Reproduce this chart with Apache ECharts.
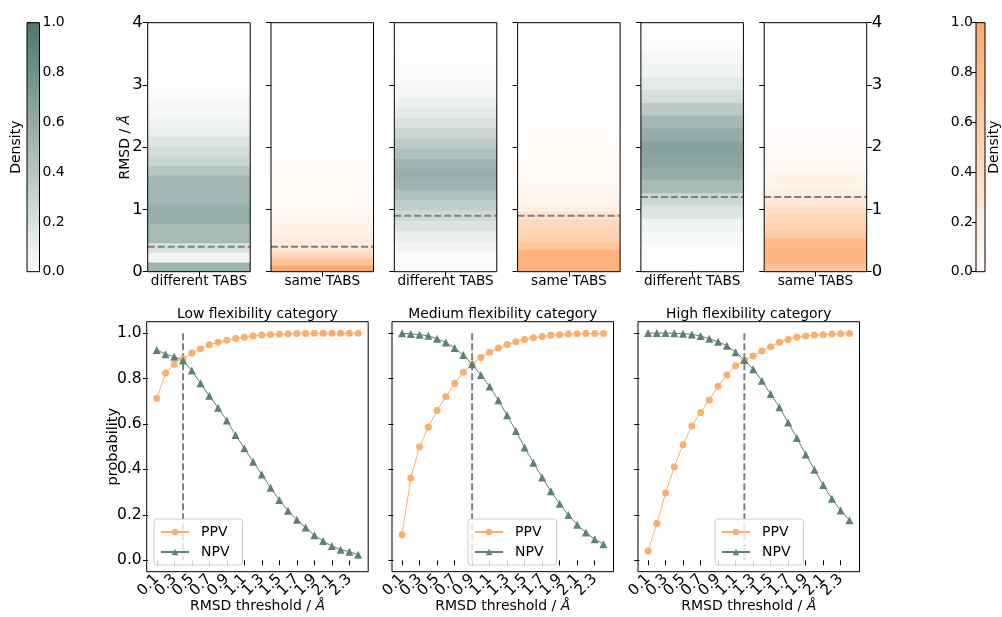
<!DOCTYPE html>
<html><head><meta charset="utf-8">
<script src="https://cdn.jsdelivr.net/npm/echarts@6/dist/echarts.min.js"></script>
<style>html,body{margin:0;padding:0;background:#fff}#c{width:1002px;height:617px}</style>
</head><body><div id="c"></div>
<script>
// ---------------- data ----------------
const thresholds = [0.1,0.2,0.3,0.4,0.5,0.6,0.7,0.8,0.9,1.0,1.1,1.2,1.3,1.4,1.5,1.6,1.7,1.8,1.9,2.0,2.1,2.2,2.3,2.4];
const xTickValues = [0.1,0.3,0.5,0.7,0.9,1.1,1.3,1.5,1.7,1.9,2.1,2.3];
const yTickValues = [0,0.2,0.4,0.6,0.8,1.0];
const rmsdTicks = [0,1,2,3,4];
const colorbarTicks = [0,0.2,0.4,0.6,0.8,1.0];
const categories = ['Low flexibility category','Medium flexibility category','High flexibility category'];
const cutoffs = [0.4, 0.9, 1.2];
const topLabels = ['different TABS','same TABS','different TABS','same TABS','different TABS','same TABS'];

const ppvLow  = [0.713,0.824,0.863,0.887,0.912,0.931,0.949,0.960,0.968,0.976,0.982,0.987,0.991,0.994,0.995,0.997,0.998,0.998,0.999,0.999,0.999,0.999,0.999,0.999];
const npvLow  = [0.926,0.907,0.896,0.879,0.835,0.779,0.724,0.671,0.615,0.551,0.493,0.434,0.378,0.319,0.265,0.218,0.179,0.144,0.110,0.085,0.063,0.047,0.038,0.025];
const ppvMed  = [0.113,0.362,0.500,0.587,0.659,0.721,0.778,0.828,0.863,0.893,0.916,0.934,0.950,0.962,0.972,0.979,0.985,0.990,0.993,0.996,0.997,0.998,0.998,0.998];
const npvMed  = [0.999,0.996,0.993,0.988,0.975,0.959,0.934,0.904,0.863,0.816,0.765,0.704,0.638,0.569,0.497,0.429,0.365,0.304,0.249,0.199,0.157,0.122,0.093,0.071];
const ppvHigh = [0.041,0.162,0.296,0.412,0.509,0.591,0.651,0.706,0.766,0.816,0.856,0.882,0.899,0.921,0.940,0.960,0.972,0.982,0.987,0.991,0.993,0.996,0.997,0.998];
const npvHigh = [1.000,1.000,1.000,0.999,0.997,0.994,0.987,0.975,0.962,0.944,0.916,0.882,0.841,0.790,0.732,0.674,0.607,0.538,0.466,0.399,0.331,0.271,0.219,0.176];

// density histograms (bin start, bin width, densities from bottom to top)
const diffLowStart = 0, diffLowWidth = 0.155;
const diffLowDensity = [0.55,0.07,0.22,0.5,0.5,0.58,0.58,0.53,0.53,0.53,0.4,0.3,0.25,0.18,0.12,0.09,0.06,0.05,0.035,0.025,0.02,0.015,0.01,0.008,0.005,0.003];
const sameLowStart = 0, sameLowWidth = 0.11;
const sameLowDensity = [1.0,0.7,0.45,0.3,0.22,0.17,0.14,0.12,0.1,0.085,0.07,0.06,0.055,0.05,0.04,0.035,0.03,0.025,0.02,0.016,0.013,0.01,0.008,0.006,0.005,0.004];
const diffMedStart = 0, diffMedWidth = 0.165;
const diffMedDensity = [0.02,0.03,0.08,0.13,0.2,0.28,0.36,0.45,0.55,0.58,0.55,0.46,0.38,0.3,0.22,0.15,0.1,0.06,0.04,0.03,0.02,0.015,0.01,0.008,0.005];
const sameMedStart = 0, sameMedWidth = 0.12;
const sameMedDensity = [0.9,0.9,0.9,0.65,0.55,0.5,0.45,0.35,0.2,0.14,0.11,0.09,0.07,0.065,0.055,0.045,0.04,0.032,0.026,0.02,0.016,0.013,0.01,0.008,0.005];
const diffHighStart = 0.03, diffHighWidth = 0.207;
const diffHighDensity = [0.005,0.02,0.04,0.09,0.2,0.3,0.5,0.6,0.66,0.68,0.6,0.52,0.38,0.24,0.15,0.09,0.05,0.03,0.015,0.01];
const sameHighStart = 0, sameHighWidth = 0.134;
const sameHighDensity = [0.7,0.85,0.85,0.82,0.62,0.52,0.46,0.37,0.27,0.18,0.14,0.12,0.08,0.06,0.048,0.038,0.03,0.024,0.019,0.014,0.011,0.008,0.006,0.005,0.004];

// ---------------- styling ----------------
const FONT = 'DejaVu Sans';
const GREEN = '#4e766f', ORANGE = '#fdaa6c';
const PPV_COLOR = '#fdae6b', NPV_COLOR = '#5a8279';
const DASH = '#808080';

function mix(hex, t) {
  t = Math.max(0, Math.min(1, t));
  const r = parseInt(hex.slice(1,3),16), g = parseInt(hex.slice(3,5),16), b = parseInt(hex.slice(5,7),16);
  const f = c => Math.round(255 + (c - 255) * t);
  return 'rgb(' + f(r) + ',' + f(g) + ',' + f(b) + ')';
}
function bins(start, width, dens) {
  return dens.map((d, k) => [0.5, start + k * width, start + (k + 1) * width, d]);
}

const topPanels = [
  {data: bins(diffLowStart, diffLowWidth, diffLowDensity), color: GREEN, cut: cutoffs[0]},
  {data: bins(sameLowStart, sameLowWidth, sameLowDensity), color: ORANGE, cut: cutoffs[0]},
  {data: bins(diffMedStart, diffMedWidth, diffMedDensity), color: GREEN, cut: cutoffs[1]},
  {data: bins(sameMedStart, sameMedWidth, sameMedDensity), color: ORANGE, cut: cutoffs[1]},
  {data: bins(diffHighStart, diffHighWidth, diffHighDensity), color: GREEN, cut: cutoffs[2]},
  {data: bins(sameHighStart, sameHighWidth, sameHighDensity), color: ORANGE, cut: cutoffs[2]}
];
const bottomPanels = [
  {ppv: ppvLow, npv: npvLow, cut: cutoffs[0], title: categories[0]},
  {ppv: ppvMed, npv: npvMed, cut: cutoffs[1], title: categories[1]},
  {ppv: ppvHigh, npv: npvHigh, cut: cutoffs[2], title: categories[2]}
];

const grid = [], xAxis = [], yAxis = [], series = [], legend = [], graphic = [];
const border = {show: true, borderColor: '#000', borderWidth: 1, z: 10, backgroundColor: 'transparent'};
const hiddenX = {type: 'value', min: 0, max: 1, show: false};

function heatRender(color) {
  return function (params, api) {
    const a = api.coord([0, api.value(1)]);
    const b = api.coord([1, api.value(2)]);
    const cs = params.coordSys;
    const shape = echarts.graphic.clipRectByRect(
      {x: a[0], y: b[1] - 0.4, width: b[0] - a[0], height: a[1] - b[1] + 0.8},
      {x: cs.x, y: cs.y, width: cs.width, height: cs.height});
    if (!shape) return;
    return {type: 'rect', shape: shape, style: {fill: mix(color, api.value(3))}};
  };
}
function barRender(color) {
  return function (params, api) {
    const a = api.coord([0, 0]), b = api.coord([1, 1]);
    return {type: 'rect', shape: {x: a[0], y: b[1], width: b[0] - a[0], height: a[1] - b[1]},
      style: {fill: new echarts.graphic.LinearGradient(0, 0, 0, 1, [{offset: 0, color: color}, {offset: 1, color: mix(color, 0.02)}])}};
  };
}

// ---- colorbars ----
const cbDefs = [
  {left: 27, color: GREEN, labelSide: 'right', nameSide: 'left', nameGap: 4},
  {left: 976, color: ORANGE, labelSide: 'left', nameSide: 'right', nameGap: 2}
];
cbDefs.forEach(cb => {
  const gi = grid.length;
  grid.push(Object.assign({left: cb.left, top: 22.7, width: 12.5, height: 249}, border));
  xAxis.push(Object.assign({gridIndex: gi}, hiddenX));
  const yi = yAxis.length;
  yAxis.push({gridIndex: gi, type: 'value', min: 0, max: 1, position: cb.labelSide,
    axisLine: {show: false}, splitLine: {show: false},
    axisTick: {show: true, length: 4, lineStyle: {color: '#000'}, customValues: colorbarTicks},
    axisLabel: {customValues: colorbarTicks, showMinLabel: true, showMaxLabel: true, formatter: v => v.toFixed(1), fontFamily: FONT, fontSize: 14, color: '#000', margin: 3}});
  yAxis.push({gridIndex: gi, type: 'value', min: 0, max: 1, position: cb.nameSide,
    axisLine: {show: false}, axisTick: {show: false}, axisLabel: {show: false}, splitLine: {show: false},
    name: 'Density', nameLocation: 'middle', nameGap: cb.nameGap, nameRotate: 90, nameMoveOverlap: false,
    nameTextStyle: {fontFamily: FONT, fontSize: 14, color: '#000', verticalAlign: cb.nameSide === 'left' ? 'bottom' : 'top'}});
  series.push({type: 'custom', xAxisIndex: gi, yAxisIndex: yi, data: [[0, 0, 1]], renderItem: barRender(cb.color), silent: true});
});

// ---- top panels ----
const topLefts = [147.7, 271, 394.3, 517.6, 640.9, 764.2];
topPanels.forEach((p, i) => {
  const gi = grid.length;
  grid.push(Object.assign({left: topLefts[i], top: 22.7, width: 102.5, height: 249}, border));
  xAxis.push({gridIndex: gi, type: 'value', min: 0, max: 1,
    axisLine: {show: false}, splitLine: {show: false},
    axisTick: {show: true, length: 5, lineStyle: {color: '#000'}, customValues: [0.5]},
    axisLabel: {customValues: [0.5], formatter: () => topLabels[i], fontFamily: FONT, fontSize: 13.6, color: '#000', margin: 3}});
  const yi = yAxis.length;
  yAxis.push({gridIndex: gi, type: 'value', min: 0, max: 4, interval: 1,
    axisLine: {show: false}, splitLine: {show: false},
    axisTick: {show: true, length: 5, lineStyle: {color: '#000'}},
    axisLabel: {show: i === 0, showMinLabel: true, showMaxLabel: true, fontFamily: FONT, fontSize: 16.5, color: '#000', margin: 5},
    name: i === 0 ? 'RMSD / {it|Å}' : '', nameLocation: 'middle', nameGap: 22.7, nameRotate: 90, nameMoveOverlap: false,
    nameTextStyle: {fontFamily: FONT, fontSize: 14, color: '#000', verticalAlign: 'middle',
      rich: {it: {fontFamily: FONT, fontSize: 14, fontStyle: 'italic', color: '#000'}}}});
  if (i === 5) {
    yAxis.push({gridIndex: gi, type: 'value', min: 0, max: 4, interval: 1, position: 'right',
      axisLine: {show: false}, splitLine: {show: false},
      axisTick: {show: true, length: 5, lineStyle: {color: '#000'}},
      axisLabel: {showMinLabel: true, showMaxLabel: true, fontFamily: FONT, fontSize: 16.5, color: '#000', margin: 5}});
  }
  series.push({type: 'custom', xAxisIndex: gi, yAxisIndex: yi, data: p.data,
    encode: {x: 0, y: [1, 2]}, renderItem: heatRender(p.color), silent: true, z: 2});
  series.push({type: 'line', xAxisIndex: gi, yAxisIndex: yi, data: [[0, p.cut], [1, p.cut]],
    symbol: 'none', silent: true, z: 5, lineStyle: {color: DASH, width: 2, type: [7, 3]}});
});

// ---- bottom panels ----
const botLefts = [146.7, 392, 638];
const legendLefts = [154, 468, 715];
const X_MIN = -0.015, X_MAX = 2.515;
// dummy end entries (hidden) so that all real tick labels stay visible
const xLabelValues = [X_MIN].concat(xTickValues, [X_MAX]);
bottomPanels.forEach((p, i) => {
  const gi = grid.length;
  grid.push(Object.assign({left: botLefts[i], top: 321.7, width: 221.5, height: 250}, border));
  xAxis.push({gridIndex: gi, type: 'value', min: X_MIN, max: X_MAX,
    axisLine: {show: false}, splitLine: {show: false},
    axisTick: {show: true, length: 5, lineStyle: {color: '#000'}, customValues: xLabelValues},
    axisLabel: {customValues: xLabelValues, showMinLabel: false, showMaxLabel: false, hideOverlap: false, rotate: 45,
      formatter: v => (v === X_MIN || v === X_MAX) ? '' : v.toFixed(1), fontFamily: FONT, fontSize: 15, color: '#000', margin: 5},
    name: 'RMSD threshold / {it|Å}', nameLocation: 'middle', nameGap: 28, nameMoveOverlap: false,
    nameTextStyle: {fontFamily: FONT, fontSize: 14, color: '#000', verticalAlign: 'top',
      rich: {it: {fontFamily: FONT, fontSize: 14, fontStyle: 'italic', color: '#000'}}}});
  const yi = yAxis.length;
  yAxis.push({gridIndex: gi, type: 'value', min: -0.05, max: 1.05,
    axisLine: {show: false}, splitLine: {show: false},
    axisTick: {show: true, length: 5, lineStyle: {color: '#000'}, customValues: yTickValues},
    axisLabel: {show: i === 0, customValues: yTickValues, showMinLabel: true, showMaxLabel: true,
      formatter: v => v.toFixed(1), fontFamily: FONT, fontSize: 15.5, color: '#000', margin: 5},
    name: i === 0 ? 'probability' : '', nameLocation: 'middle', nameGap: 33.7, nameRotate: 90, nameMoveOverlap: false,
    nameTextStyle: {fontFamily: FONT, fontSize: 14.5, color: '#000', verticalAlign: 'middle'}});
  series.push({type: 'line', name: 'cut', xAxisIndex: gi, yAxisIndex: yi, data: [[p.cut, 0], [p.cut, 1]],
    symbol: 'none', silent: true, z: 1, lineStyle: {color: DASH, width: 2, type: [7, 3]}});
  series.push({type: 'line', name: 'PPV', xAxisIndex: gi, yAxisIndex: yi,
    data: thresholds.map((t, k) => [t, p.ppv[k]]), symbol: 'circle', symbolSize: 7, z: 3,
    color: PPV_COLOR, lineStyle: {color: PPV_COLOR, width: 1}, itemStyle: {color: PPV_COLOR}});
  series.push({type: 'line', name: 'NPV', xAxisIndex: gi, yAxisIndex: yi,
    data: thresholds.map((t, k) => [t, p.npv[k]]), symbol: 'triangle', symbolSize: 8, z: 3,
    color: NPV_COLOR, lineStyle: {color: NPV_COLOR, width: 1}, itemStyle: {color: NPV_COLOR}});
  legend.push({data: ['PPV', 'NPV'], left: legendLefts[i], top: 519, orient: 'vertical',
    selectedMode: false, itemWidth: 28, itemHeight: 8, itemGap: 6,
    padding: [6, 13, 6, 6], backgroundColor: 'rgba(255,255,255,0.8)', borderColor: '#cccccc', borderWidth: 1, borderRadius: 3,
    textStyle: {fontFamily: FONT, fontSize: 14, color: '#000', padding: [0, 0, 0, 7]}, z: 20});
  graphic.push({type: 'text', x: botLefts[i] + 221.5 / 2, y: 314,
    style: {text: p.title, align: 'center', verticalAlign: 'middle', font: '13.9px "DejaVu Sans"', fill: '#000'}});
});

const chart = echarts.init(document.getElementById('c'), null, {renderer: 'canvas'});
chart.setOption({
  animation: false,
  backgroundColor: '#fff',
  textStyle: {fontFamily: FONT},
  grid, xAxis, yAxis, series, legend, graphic
});
</script></body></html>
